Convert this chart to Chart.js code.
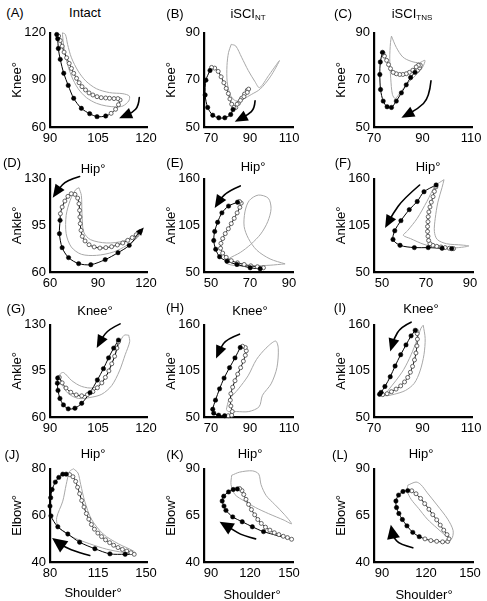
<!DOCTYPE html>
<html><head><meta charset="utf-8">
<script src="https://cdn.jsdelivr.net/npm/chart.js@4.4.1/dist/chart.umd.min.js"></script>
<style>
html,body{margin:0;padding:0;background:#fff;}
body{width:487px;height:601px;position:relative;overflow:hidden;font-family:"Liberation Sans",Arial,sans-serif;}
canvas{position:absolute;}
.t{position:absolute;font-size:13px;color:#000;transform:translate(-50%,-50%);white-space:nowrap;line-height:1;}
.t sub{font-size:8px;vertical-align:-2px;}
</style></head><body>
<script>
// ---------- DATA ----------
const A_xticks=[90,105,120], A_yticks=[60,90,120];
const A_swing=[[92.1,118.9],[92.4,116.2],[92.6,110.0],[93.2,103.1],[94.3,94.2],[95.7,86.5],[97.4,78.3],[99.8,71.9],[102.4,68.5],[104.7,66.6],[107.4,67.0]];
const A_stance=[[109.1,68.7],[110.5,71.3],[111.4,74.2],[111.9,77.2],[111.2,78.1],[110.0,78.1],[108.6,78.3],[107.4,78.5],[106.0,78.7],[104.7,79.3],[103.4,80.4],[102.2,81.7],[101.1,83.6],[100.0,85.7],[99.1,88.2],[98.3,91.0],[97.4,94.2],[96.7,97.3],[96.0,100.5],[95.2,104.1],[94.4,107.7],[93.8,111.5],[93.2,115.1],[92.7,117.9]];
const A_other=[[93.9,120],[94.8,119],[95.5,112.6],[96.7,104.1],[98.8,95.6],[101.2,89.3],[104.5,84.4],[108.6,81.9],[112.8,81.2],[114.8,79.7],[114.6,76.6],[112.8,73.4],[110.7,72.8],[107.6,73.4],[104.5,75.1],[101.4,78.7],[98.8,84.4],[96.7,92.5],[95.2,102],[94.3,111.5],[93.9,119]];
const A_arrow=[[117.9,78.7],[117.7,73.4],[115.8,69.2],[111.6,65.6]];

const B_xticks=[70,90,110], B_yticks=[50,70,90];
const B_swing=[[69.5,74.0],[67.4,69.9],[67.0,63.6],[68.3,58.3],[70.9,55.0],[74.0,53.9],[77.1,53.9],[80.1,55.3],[81.3,57.4]];
const B_stance=[[82.7,58.3],[84.1,60.1],[85.7,62.2],[87.2,64.0],[88.6,65.6],[89.3,66.1],[88.6,64.7],[86.9,62.9],[85.1,61.3],[83.4,59.7],[81.7,58.3],[80.6,59.7],[79.7,61.9],[78.9,64.2],[77.8,66.4],[76.6,68.8],[75.2,71.3],[73.7,73.6],[71.9,75.0],[70.3,75.3]];
const B_other=[[80.4,85.1],[82.7,84.4],[85.7,79.6],[89.1,74.0],[92.6,69.2],[94.9,66.7],[99.6,71.9],[105.1,78.2],[100.4,71.3],[95.2,66.1],[90.9,63.9],[86.5,61.9],[82.7,61.1],[79.9,63.6],[78.3,69.2],[78.2,76.1],[79.0,81.7]];
const B_arrow=[[92.6,61.1],[92.3,57.8],[89.1,55.3],[82.2,52.2]];

const C_xticks=[70,90,110], C_yticks=[50,70,90];
const C_swing=[[73.5,81.7],[72.6,77.6],[72.4,72.3],[72.7,65.9],[73.8,61.0],[75.4,58.6],[77.2,58.3],[79.2,61.0],[81.3,64.5],[83.3,67.9],[85.1,71.0],[86.9,73.2]];
const C_stance=[[88.0,74.1],[88.8,75.1],[89.1,76.2],[88.3,76.2],[87.4,75.5],[86.0,74.1],[84.6,73.2],[83.3,72.6],[81.9,72.3],[80.6,72.3],[79.2,72.6],[77.9,73.2],[76.8,74.8],[76.0,76.5],[75.2,78.3],[74.3,80.1],[73.7,81.4]];
const C_other=[[77.2,88.6],[79.2,83.8],[81.9,79.7],[85.3,77.9],[88.7,77.3],[91.0,78.3],[90.1,75.5],[88.0,72.8],[84.6,69.3],[81.3,65.4],[78.8,62.1],[77.6,63.8],[76.9,70.7],[76.5,79.0],[76.8,85.9]];
const C_arrow=[[93.5,69.6],[92.8,62.4],[88.0,57.6],[81.3,53.9]];

const D_xticks=[60,90,120], D_yticks=[60,95,130];
const D_swing=[[66.3,98.8],[65.9,88.8],[67.6,78.3],[71.6,70.8],[77.9,66.3],[85.5,65.5],[94.5,69.3],[102.5,74.5],[109.5,80.0]];
const D_stance=[[116.4,90.5],[113.9,88.0],[111.4,85.8],[108.6,83.8],[105.5,81.8],[102.1,80.3],[98.5,79.0],[94.9,78.3],[91.2,78.0],[87.6,78.8],[84.4,80.5],[81.9,83.3],[80.2,86.8],[79.4,91.3],[78.9,96.3],[78.7,101.3],[78.5,106.3],[78.1,111.3],[77.3,115.5],[75.6,118.3],[73.3,118.8],[71.2,116.8],[69.3,113.3],[67.6,108.8],[66.5,103.8]];
const D_other=[[78.1,123.3],[79.6,117.5],[80.0,103.8],[81.1,90.0],[85.3,84.3],[95.4,81.8],[105.9,83.3],[114.3,88.8],[117.5,91.8],[114.7,85.8],[108.0,80.0],[99.6,75.0],[89.1,72.5],[79.6,73.3],[73.3,78.8],[70.1,88.8],[70.1,102.5],[72.6,113.8],[76.0,121.8]];
const D_arrow=[[78.5,131.7],[70.1,128.7],[65.5,122.5],[61.7,115.8]];
const D_arrow2=[[113.6,87.0],[116.0,89.8],[118.6,93.4]];

const E_xticks=[50,70,90], E_yticks=[50,105,160];
const E_swing=[[63.6,132.4],[59.0,127.8],[55.6,119.8],[53.4,108.7],[51.9,97.9],[51.4,87.2],[52.4,76.9],[54.4,68.0],[58.2,62.7],[63.3,58.9],[70.1,55.0],[75.2,53.9]];
const E_stance=[[76.9,55.0],[73.8,56.2],[70.4,57.3],[67.0,58.9],[63.6,60.8],[60.4,63.4],[57.8,67.3],[56.0,72.3],[54.9,78.0],[55.1,83.8],[56.0,89.5],[57.3,95.3],[58.9,101.0],[60.4,107.1],[61.9,113.3],[63.4,119.8],[64.8,126.3],[65.5,131.3],[64.6,133.2]];
const E_other=[[88.0,59.6],[80.3,65.4],[73.5,75.7],[69.2,89.5],[67.0,103.7],[67.4,120.9],[69.6,134.3],[74.3,140.8],[79.4,137.0],[80.8,124.8],[79.1,109.4],[75.5,94.9],[70.4,82.6],[65.0,73.0],[59.0,65.4],[57.8,60.4],[63.3,57.3],[71.8,57.3],[80.3,58.0]];
const E_arrow=[[65.0,151.6],[59.0,145.8],[54.8,136.2],[51.9,125.5]];

const F_xticks=[50,70,90], F_yticks=[50,105,160];
const F_swing=[[74.6,152.7],[69.1,144.7],[66.0,133.2],[62.4,123.6],[58.6,110.6],[55.8,98.7],[55.0,88.4],[58.2,81.5],[64.7,78.8],[71.0,78.8],[77.3,78.0],[81.7,77.6]];
const F_stance=[[82.5,77.6],[80.6,78.0],[78.7,78.8],[76.8,79.5],[74.9,80.3],[73.1,81.5],[71.8,83.4],[71.2,87.2],[70.9,92.2],[70.7,97.9],[70.7,103.7],[70.9,109.4],[71.0,115.2],[71.3,120.9],[71.8,126.7],[72.4,132.4],[73.2,138.9],[73.8,145.1],[74.5,150.4]];
const F_other=[[78.2,159],[77.3,149.7],[75.4,132.4],[74.2,113.3],[73.8,97.9],[75.1,88.4],[79.3,83.4],[86.4,81.8],[89.5,80.7],[84.8,78.8],[77.0,78.0],[69.1,82.6],[62.9,89.5],[59.7,93.3],[61.6,98.7],[66.0,113.3],[70.4,133.2],[74.2,151.6]];
const F_arrow=[[67.1,152.7],[59.7,136.2],[55.0,119.0],[51.4,101.8]];

const G_xticks=[90,105,120], G_yticks=[60,95,130];
const G_swing=[[111.4,118.4],[109.9,112.3],[108.3,104.9],[106.7,96.7],[104.8,88.1],[102.5,78.5],[99.9,70.4],[97.8,66.7],[95.7,66.2],[94.2,69.2],[93.1,74.1],[92.5,80.2],[92.3,85.7],[92.4,89.6]];
const G_stance=[[92.9,90.1],[93.8,85.9],[95.0,82.0],[96.5,78.8],[98.2,76.8],[99.9,76.1],[101.7,77.0],[103.4,79.3],[104.8,82.2],[106.2,85.9],[107.3,90.1],[108.4,95.0],[109.3,100.4],[110.2,106.1],[110.9,112.3],[111.4,117.2]];
const G_other=[[114.6,122.1],[114.9,117.2],[113.5,107.3],[111.7,95.0],[109.3,83.9],[106.2,77.3],[102.5,74.8],[98.9,74.1],[95.7,77.8],[93.7,85.2],[93.1,92.1],[94.2,93.8],[96.8,87.6],[99.9,83.2],[103.6,82.2],[106.7,87.6],[108.8,97.5],[110.4,107.3],[111.9,117.2],[113.2,122.1]];
const G_arrow=[[111.9,130.7],[108.3,126.5],[106.2,119.7],[104.6,112.3]];

const H_xticks=[70,90,110], H_yticks=[50,105,160];
const H_swing=[[85.0,132.9],[82.3,120.5],[79.5,108.8],[76.7,96.4],[74.4,83.6],[72.3,70.1],[70.9,59.2],[71.4,54.6],[73.9,52.2],[77.0,51.5]];
const H_stance=[[78.8,51.5],[80.6,52.2],[80.9,56.5],[80.2,63.1],[79.9,70.1],[80.2,77.8],[81.1,85.6],[82.3,93.3],[83.7,101.1],[85.2,108.8],[86.6,116.6],[87.6,123.6],[88.1,129.0],[87.6,132.9],[86.2,134.4]];
const H_other=[[77.9,59.2],[79.2,70.1],[84.1,83.6],[89.0,99.1],[93.3,118.5],[98.2,132.1],[103.1,140.6],[104.5,132.1],[103.8,108.8],[100.8,89.5],[96.4,75.9],[94.7,62.3],[89.4,56.5],[83.2,56.5],[78.8,56.5]];
const H_arrow=[[84.6,148.8],[77.9,142.9],[74.9,132.1],[72.6,119.7]];

const I_xticks=[70,90,110], I_yticks=[50,105,160];
const I_swing=[[87.0,153.4],[85.3,146.8],[83.2,136.0],[81.0,124.3],[78.7,110.8],[76.7,98.0],[74.5,86.4],[72.9,79.4],[72.3,77.1]];
const I_stance=[[73.6,76.7],[75.4,77.8],[77.2,80.2],[79.1,83.3],[81.0,87.1],[82.6,91.8],[83.9,97.2],[85.0,103.4],[85.9,110.4],[86.7,118.1],[87.3,126.3],[87.7,134.8],[87.9,142.9],[87.8,149.5],[87.4,153.0]];
const I_other=[[90.3,159.5],[91.1,143.7],[90.6,124.3],[89.0,105.0],[86.6,90.2],[83.0,81.7],[78.3,77.1],[74.5,75.5],[75.6,80.9],[79.0,93.3],[82.3,106.9],[85.3,124.3],[87.7,141.8],[89.4,156.1]];
const I_arrow=[[85.3,163.1],[81.0,157.3],[78.3,143.7],[76.7,128.2]];

const J_xticks=[80,115,150], J_yticks=[40,60,80];
const J_swing=[[91.8,77.7],[89.3,77.7],[86.4,76.3],[83.9,74.3],[81.5,71.1],[80.5,67.6],[80.0,64.0],[80.7,59.8],[85.7,55.1],[93.0,52.0],[101.6,48.5],[112.7,45.7],[123.7,43.5],[134.8,43.3]];
const J_stance=[[141.4,43.3],[139.0,44.0],[136.0,44.7],[132.8,45.4],[129.6,46.2],[126.4,47.2],[123.5,48.3],[120.5,49.5],[117.6,50.9],[114.9,52.4],[112.4,54.1],[110.2,56.1],[108.3,58.4],[106.5,60.8],[104.8,63.6],[103.1,66.4],[101.6,69.3],[100.1,72.1],[98.7,74.6],[96.7,76.6],[94.3,77.5]];
const J_other=[[97.2,80],[100.4,78.2],[102.4,73.2],[105.3,66.1],[110.2,58.4],[118.8,52.0],[129.9,47.8],[140.9,44.7],[142.2,43.5],[133.6,44.1],[121.3,45.5],[109.0,47.8],[97.9,50.3],[90.6,52.7],[85.7,55.5],[84.9,59.1],[89.3,66.1],[91.8,73.2],[94.3,78.9]];
const J_arrow=[[109.0,42.8],[100.4,44.2],[90.6,46.4],[81.5,50.3]];

const K_xticks=[90,120,150], K_yticks=[40,65,90];
const K_swing=[[110.3,79.2],[107.1,78.9],[103.5,77.6],[99.8,75.3],[98.6,72.7],[100.0,70.0],[101.5,67.7],[106.7,64.2],[114.0,61.6],[121.8,58.9],[130.4,56.3]];
const K_stance=[[152.0,52.2],[148.8,53.1],[145.6,53.8],[142.2,54.7],[138.7,55.7],[135.3,57.1],[131.9,58.7],[128.7,60.7],[126.0,62.8],[123.6,65.3],[121.1,68.1],[118.9,70.9],[116.9,73.6],[115.2,76.2],[113.8,78.3],[112.0,79.4]];
const K_other=[[105.9,86.5],[112.0,88.2],[121.8,88.9],[126.7,87.2],[128.5,81.5],[132.4,75.7],[139.0,70.9],[146.3,65.6],[152.0,60.5],[146.3,62.4],[134.1,66.0],[124.3,69.2],[115.7,72.7],[108.4,76.2],[105.4,81.5]];
const K_arrow=[[124.3,52.4],[114.5,54.1],[105.9,57.7],[96.6,61.6]];

const L_xticks=[90,120,150], L_yticks=[40,65,90];
const L_swing=[[107.6,78.3],[104.3,77.8],[101.3,75.9],[99.5,72.7],[99.9,69.2],[101.5,66.0],[103.9,62.8],[107.0,59.4],[111.0,55.9],[115.4,53.6]];
const L_stance=[[119.3,52.4],[123.3,51.5],[127.3,51.1],[131.3,50.8],[134.8,51.0],[135.7,52.4],[134.3,54.7],[132.1,57.1],[129.7,59.8],[127.3,62.6],[124.6,65.4],[122.0,68.3],[119.1,71.3],[116.3,74.1],[113.2,76.6],[110.3,78.2]];
const L_other=[[107.6,81.2],[113.2,82.9],[116.5,81.5],[120.9,77.1],[127.5,70.6],[134.8,63.0],[138.5,56.8],[137.4,52.4],[133.5,54.1],[127.5,58.2],[120.9,63.0],[114.9,68.8],[109.9,73.6],[107.2,78.0]];
const L_arrow=[[111.0,47.6],[102.1,49.4],[97.7,53.3],[96.0,60.0]];

// ---------- LAYOUT ----------
const COLS=[{a0:50,p0:50,p1:146,a1:147},{a0:204,p0:211,p1:289,a1:293},{a0:374,p0:374,p1:471,a1:472}];
const ROWS=[{t:31,b:127},{t:177,b:272},{t:323,b:417},{t:467,b:562}];
const GEO_F={a0:374,p0:382,p1:470,a1:473};

const panels=[
 {col:0,row:0,swing:A_swing,stance:A_stance,other:A_other,arrows:[{pts:A_arrow}],xt:A_xticks,yt:A_yticks,ylab:'Knee°'},
 {col:1,row:0,swing:B_swing,stance:B_stance,other:B_other,arrows:[{pts:B_arrow}],xt:B_xticks,yt:B_yticks,ylab:'Knee°'},
 {col:2,row:0,swing:C_swing,stance:C_stance,other:C_other,arrows:[{pts:C_arrow}],xt:C_xticks,yt:C_yticks,ylab:'Knee°'},
 {col:0,row:1,swing:D_swing,stance:D_stance,other:D_other,arrows:[{pts:D_arrow},{pts:D_arrow2,head:8,w:3.5,lw:1}],xt:D_xticks,yt:D_yticks,ylab:'Ankle°'},
 {col:1,row:1,swing:E_swing,stance:E_stance,other:E_other,arrows:[{pts:E_arrow}],xt:E_xticks,yt:E_yticks,ylab:'Ankle°'},
 {col:2,row:1,geo:GEO_F,swing:F_swing,stance:F_stance,other:F_other,arrows:[{pts:F_arrow}],xt:F_xticks,yt:F_yticks,ylab:'Ankle°'},
 {col:0,row:2,swing:G_swing,stance:G_stance,other:G_other,arrows:[{pts:G_arrow}],xt:G_xticks,yt:G_yticks,ylab:'Ankle°'},
 {col:1,row:2,swing:H_swing,stance:H_stance,other:H_other,arrows:[{pts:H_arrow}],xt:H_xticks,yt:H_yticks,ylab:'Ankle°'},
 {col:2,row:2,swing:I_swing,stance:I_stance,other:I_other,arrows:[{pts:I_arrow}],xt:I_xticks,yt:I_yticks,ylab:'Ankle°'},
 {col:0,row:3,swing:J_swing,stance:J_stance,other:J_other,arrows:[{pts:J_arrow,head:15,w:7}],xt:J_xticks,yt:J_yticks,ylab:'Elbow°'},
 {col:1,row:3,swing:K_swing,stance:K_stance,other:K_other,arrows:[{pts:K_arrow,head:14,w:6.5}],xt:K_xticks,yt:K_yticks,ylab:'Elbow°'},
 {col:2,row:3,geo:GEO_F,swing:L_swing,stance:L_stance,other:L_other,arrows:[{pts:L_arrow,head:14,w:6.5}],xt:L_xticks,yt:L_yticks,ylab:'Elbow°'}
];

const texts=[
 ['(A)',15,12],['(B)',175,13],['(C)',343,13],
 ['Intact',85,12],['iSCI<sub>NT</sub>',248,14],['iSCI<sub>TNS</sub>',412,14],
 ['(D)',12,162],['(E)',175,162],['(F)',343,162],
 ['Hip°',93,168],['Hip°',253,166],['Hip°',428,166],
 ['(G)',16,308],['(H)',175,307],['(I)',340,307],
 ['Knee°',95,310],['Knee°',250,310],['Knee°',421,308],
 ['(J)',12,454],['(K)',175,454],['(L)',340,454],
 ['Hip°',93,453],['Hip°',250,453],['Hip°',421,453],
 ['Shoulder°',93,592],['Shoulder°',252,594],['Shoulder°',424,594]
];

Chart.defaults.font.family='"Liberation Sans", Arial, sans-serif';
Chart.defaults.font.size=13;
Chart.defaults.color='#000';

function arrowPlugin(list){
  return {id:'arrows',afterDatasetsDraw(chart){
    const ctx=chart.ctx, sx=chart.scales.x, sy=chart.scales.y;
    list.forEach(a=>{
      const P=a.pts.map(([x,y])=>[sx.getPixelForValue(x),sy.getPixelForValue(y)]);
      const n=P.length, tip=P[n-1], prev=P[n-2];
      const dx=tip[0]-prev[0], dy=tip[1]-prev[1], L=Math.hypot(dx,dy)||1, ux=dx/L, uy=dy/L;
      const hl=a.head||13, hw=a.w||5.5;
      const base=[tip[0]-ux*hl*0.7, tip[1]-uy*hl*0.7];
      ctx.save();
      ctx.strokeStyle='#000'; ctx.lineWidth=a.lw||1.6; ctx.lineCap='round';
      ctx.beginPath(); ctx.moveTo(P[0][0],P[0][1]);
      if(n===2){ctx.lineTo(base[0],base[1]);}
      for(let i=1;i<n-1;i++){
        const m = i<n-2 ? [(P[i][0]+P[i+1][0])/2,(P[i][1]+P[i+1][1])/2] : base;
        ctx.quadraticCurveTo(P[i][0],P[i][1],m[0],m[1]);
      }
      ctx.stroke();
      const bx=tip[0]-ux*hl, by=tip[1]-uy*hl;
      ctx.beginPath(); ctx.moveTo(tip[0],tip[1]);
      ctx.lineTo(bx-uy*hw,by+ux*hw); ctx.lineTo(bx+uy*hw,by-ux*hw); ctx.closePath();
      ctx.fillStyle='#000'; ctx.fill();
      ctx.restore();
    });
  }};
}

function makePanel(p){
  const g=Object.assign({},COLS[p.col],p.geo||{}), r=ROWS[p.row];
  const x0=p.xt[0], x1=p.xt[p.xt.length-1];
  const k=(x1-x0)/(g.p1-g.p0);
  const xmin=x0-(g.p0-g.a0)*k, xmax=x1+(g.a1-g.p1)*k;
  const YW=52, PT=10, PR=16, XH=25;
  const W=YW+(g.a1-g.a0)+PR, H=PT+(r.b-r.t)+XH;
  const cv=document.createElement('canvas');
  cv.width=W; cv.height=H;
  cv.style.left=(g.a0-YW)+'px'; cv.style.top=(r.t-PT)+'px';
  cv.style.width=W+'px'; cv.style.height=H+'px';
  document.body.appendChild(cv);
  const pts=a=>a.map(([x,y])=>({x,y}));
  const loop=[...p.swing,...p.stance,p.swing[0]];
  const other=[...p.other,p.other[0]];
  const axisCommon={type:'linear',grid:{display:false,drawTicks:false},border:{display:true,color:'#000',width:2.2}};
  new Chart(cv,{type:'scatter',
    data:{datasets:[
      {data:pts(p.swing),showLine:false,pointRadius:2.2,pointBackgroundColor:'#000',pointBorderColor:'#000',pointBorderWidth:0.5,clip:12},
      {data:pts(p.stance),showLine:false,pointRadius:2.0,pointBackgroundColor:'#fff',pointBorderColor:'#555',pointBorderWidth:0.9,clip:12},
      {data:pts(loop),showLine:true,borderColor:'#000',borderWidth:1,pointRadius:0,tension:0.3,clip:12},
      {data:pts(other),showLine:true,borderColor:'#a8a8a8',borderWidth:1,pointRadius:0,tension:0.3,clip:12}
    ]},
    options:{responsive:false,animation:false,devicePixelRatio:1,events:[],
      layout:{padding:{top:PT,right:PR,left:0,bottom:0}},
      plugins:{legend:{display:false},tooltip:{enabled:false}},
      scales:{
        x:Object.assign({},axisCommon,{min:xmin,max:xmax,
          afterBuildTicks:s=>{s.ticks=p.xt.map(v=>({value:v}));},
          afterFit:s=>{s.height=XH;},
          ticks:{autoSkip:false,maxRotation:0,padding:4,color:'#000',font:{size:13},callback:v=>String(v)}}),
        y:Object.assign({},axisCommon,{min:p.yt[0],max:p.yt[p.yt.length-1],
          afterBuildTicks:s=>{s.ticks=p.yt.map(v=>({value:v}));},
          afterFit:s=>{s.width=YW;},
          ticks:{autoSkip:false,padding:4,color:'#000',font:{size:13},callback:v=>String(v)},
          title:{display:true,text:p.ylab,color:'#000',font:{size:13},padding:{top:12,bottom:0}}})
      }
    },
    plugins:[arrowPlugin(p.arrows)]
  });
}

panels.forEach(makePanel);
texts.forEach(([h,x,y])=>{
  const d=document.createElement('div'); d.className='t'; d.innerHTML=h;
  d.style.left=x+'px'; d.style.top=y+'px'; document.body.appendChild(d);
});
</script>
</body></html>
